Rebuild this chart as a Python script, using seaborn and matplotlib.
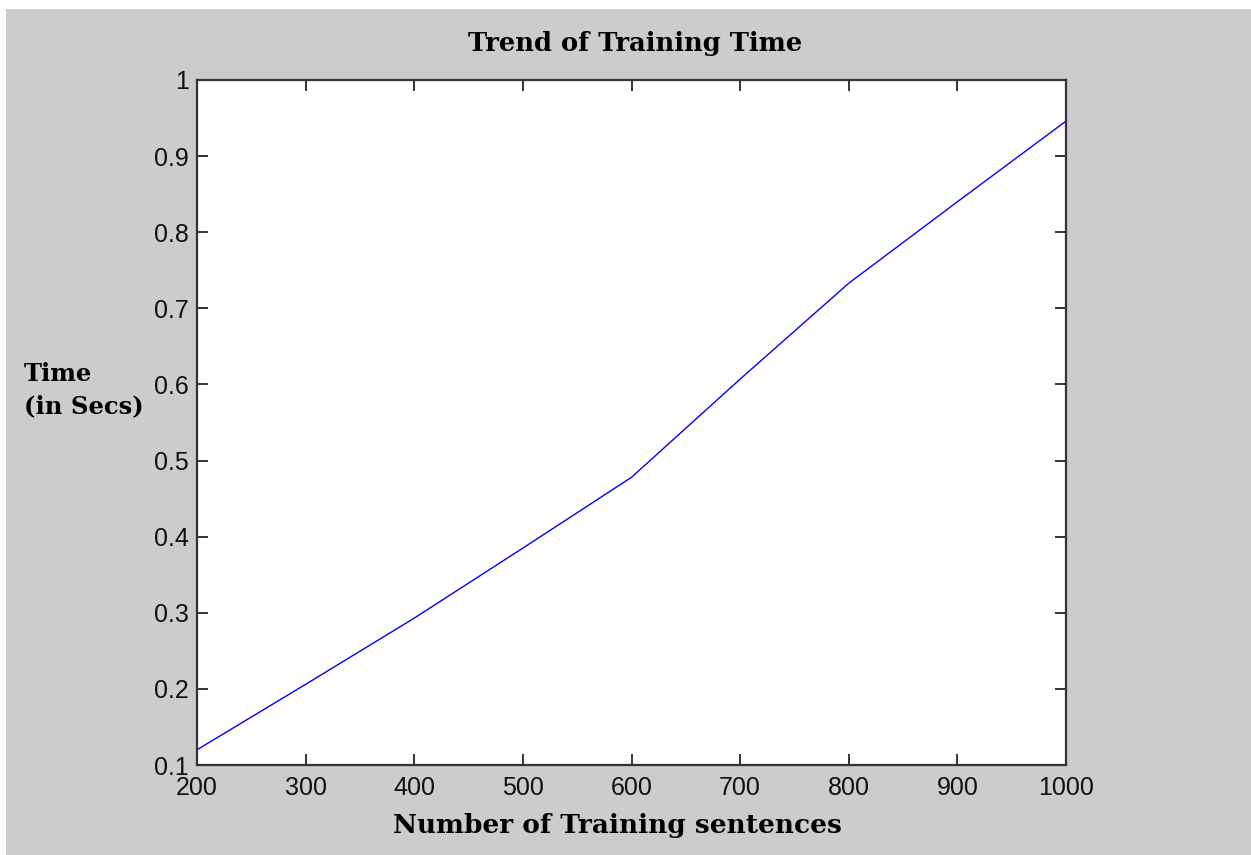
import numpy as np
import pandas as pd
import seaborn as sns
import matplotlib.pyplot as plt
from matplotlib.patches import Rectangle

# values
sentences = [200, 300, 400, 500, 600, 700, 800, 900, 1000]
train_time = [0.12, 0.206, 0.293, 0.385, 0.478, 0.607, 0.733, 0.840, 0.946]
x_ticks = [200, 300, 400, 500, 600, 700, 800, 900, 1000]
y_ticks = [0.1, 0.2, 0.3, 0.4, 0.5, 0.6, 0.7, 0.8, 0.9, 1.0]
y_tick_labels = ['0.1', '0.2', '0.3', '0.4', '0.5', '0.6', '0.7', '0.8', '0.9', '1']

sns.set_style('white')
plt.rcParams['font.family'] = ['Liberation Sans', 'DejaVu Sans']

W, H = 1251, 855
fig = plt.figure(figsize=(W / 100, H / 100), dpi=100, facecolor='white')
# grey MATLAB figure background, leaving a thin white strip top and left
fig.patches.append(Rectangle((6 / W, 0), 1 - 6 / W, 1 - 9 / H,
                             transform=fig.transFigure, facecolor='#cccccc',
                             edgecolor='none', zorder=-10))

ax = fig.add_axes([197 / W, 90 / H, 869 / W, 685 / H])
ax.set_facecolor('white')

df = pd.DataFrame({'sentences': sentences, 'time': train_time})
sns.lineplot(data=df, x='sentences', y='time', ax=ax, color='#0000ff', linewidth=1.0)

ax.set_xlim(200, 1000)
ax.set_ylim(0.1, 1.0)
ax.set_xticks(x_ticks)
ax.set_xticklabels([str(t) for t in x_ticks])
ax.set_yticks(y_ticks)
ax.set_yticklabels(y_tick_labels)
ax.tick_params(direction='in', length=8, width=1.2, top=True, right=True,
               bottom=True, left=True, labelsize=18, colors='#111111', pad=6)
ax.tick_params(axis='x', pad=8)
for s in ax.spines.values():
    s.set_color('#333333')
    s.set_linewidth(1.6)
    s.set_visible(True)

serif = ['DejaVu Serif', 'Liberation Serif']
ax.set_xlabel('')
ax.set_ylabel('')
fig.text(0.5 * (391 + 843) / W, 1 - 825 / H, 'Number of Training sentences',
         ha='center', va='center', fontsize=19, fontweight='bold', family=serif,
         color='black')
fig.text(0.5 * (459 + 812) / W, 1 - 43 / H, 'Trend of Training Time',
         ha='center', va='center', fontsize=18.5, fontweight='bold', family=serif,
         color='black')
fig.text(24 / W, 1 - 390 / H, 'Time\n(in Secs)', ha='left', va='center',
         fontsize=17.5, fontweight='bold', family=serif, linespacing=1.45,
         color='black')

fig.savefig('out.png', dpi=100, facecolor=fig.get_facecolor())
